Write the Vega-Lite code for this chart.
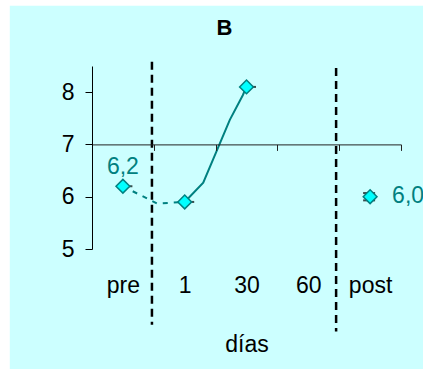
{
  "$schema": "https://vega.github.io/schema/vega-lite/v6.json",
  "width": 309,
  "height": 183,
  "autosize": {"type": "none"},
  "padding": {"left": 92, "top": 66, "right": 22, "bottom": 120},
  "background": "white",
  "config": {
    "view": {"stroke": null},
    "font": "Liberation Sans",
    "axis": {"labelFont": "Liberation Sans", "titleFont": "Liberation Sans", "grid": false}
  },
  "title": {
    "text": "B",
    "font": "Liberation Sans",
    "fontSize": 22,
    "fontWeight": "bold",
    "color": "black",
    "anchor": "middle",
    "frame": "group",
    "dx": -22,
    "offset": -34
  },
  "datasets": {
    "puntos": [
      {"dia": "pre", "pos": 0.5, "valor": 6.2, "etiqueta": "6,2"},
      {"dia": "1", "pos": 1.5, "valor": 5.9, "etiqueta": ""},
      {"dia": "30", "pos": 2.5, "valor": 8.1, "etiqueta": ""},
      {"dia": "post", "pos": 4.5, "valor": 6.0, "etiqueta": "6,0"}
    ],
    "tramoDiscontinuo": [
      {"pos": 0.5, "valor": 6.2},
      {"pos": 1.05, "valor": 5.87},
      {"pos": 1.5, "valor": 5.9}
    ],
    "tramoContinuo": [
      {"pos": 1.5, "valor": 5.9},
      {"pos": 1.8, "valor": 6.27},
      {"pos": 2.23, "valor": 7.47},
      {"pos": 2.44, "valor": 7.94},
      {"pos": 2.5, "valor": 8.1}
    ],
    "errores": [
      {"pos": 0.5, "limite": 6.2},
      {"pos": 1.5, "limite": 5.9},
      {"pos": 2.5, "limite": 8.1},
      {"pos": 4.5, "limite": 5.93},
      {"pos": 4.5, "limite": 6.07}
    ],
    "separadores": [
      {"pos": 0.97, "arriba": 8.58, "abajo": 3.55},
      {"pos": 3.95, "arriba": 8.46, "abajo": 3.42}
    ]
  },
  "resolve": {"axis": {"x": "independent", "y": "independent"}},
  "layer": [
    {
      "data": {"values": [{}]},
      "mark": {"type": "rect", "color": "#CCFFFF"},
      "encoding": {
        "x": {"datum": -1.33, "type": "quantitative", "scale": {"domain": [0, 5], "nice": false, "zero": false}, "axis": null},
        "x2": {"datum": 5.6},
        "y": {"datum": 9.65, "type": "quantitative", "scale": {"domain": [5, 8.5], "nice": false, "zero": false}, "axis": null},
        "y2": {"datum": 2.0}
      }
    },
    {
      "data": {"name": "separadores"},
      "mark": {"type": "rule", "color": "black", "strokeWidth": 2.5, "strokeDash": [8, 5]},
      "encoding": {
        "x": {
          "field": "pos", "type": "quantitative",
          "scale": {"domain": [0, 5], "nice": false, "zero": false},
          "axis": {
            "orient": "bottom", "offset": -104.6, "values": [0, 1, 2, 3, 4, 5],
            "labels": false, "tickSize": 6, "tickColor": "#222", "domainColor": "#222",
            "domainWidth": 1, "tickWidth": 1, "title": null, "zindex": 1
          }
        },
        "y": {
          "field": "arriba", "type": "quantitative",
          "scale": {"domain": [5, 8.5], "nice": false, "zero": false},
          "axis": {
            "orient": "left", "values": [5, 6, 7, 8], "tickSize": 7, "labelPadding": 11,
            "labelFontSize": 23, "labelColor": "black", "tickColor": "black",
            "domainColor": "black", "domainWidth": 1, "tickWidth": 1,
            "title": null, "zindex": 1
          }
        },
        "y2": {"field": "abajo"}
      }
    },
    {
      "data": {"name": "tramoDiscontinuo"},
      "mark": {"type": "line", "color": "#008080", "strokeWidth": 2, "strokeDash": [5, 6]},
      "encoding": {
        "x": {
          "field": "pos", "type": "quantitative",
          "scale": {"domain": [0, 5], "nice": false, "zero": false},
          "axis": {
            "orient": "bottom", "values": [0.5, 1.5, 2.5, 3.5, 4.5],
            "labelExpr": "['pre','1','30','60','post'][floor(datum.value)]",
            "ticks": false, "tickSize": 0, "domain": false,
            "labelPadding": 25, "labelFontSize": 23, "labelColor": "black",
            "labelFlush": false, "labelOverlap": false, "labelBound": false,
            "title": "días", "titleFontSize": 23, "titleFontWeight": "normal",
            "titleColor": "black", "titlePadding": 36, "zindex": 1
          }
        },
        "y": {"field": "valor", "type": "quantitative", "scale": {"domain": [5, 8.5], "nice": false, "zero": false}, "axis": null}
      }
    },
    {
      "data": {"name": "tramoContinuo"},
      "mark": {"type": "line", "color": "#008080", "strokeWidth": 2},
      "encoding": {
        "x": {"field": "pos", "type": "quantitative", "scale": {"domain": [0, 5], "nice": false, "zero": false}, "axis": null},
        "y": {"field": "valor", "type": "quantitative", "scale": {"domain": [5, 8.5], "nice": false, "zero": false}, "axis": null}
      }
    },
    {
      "data": {"name": "errores"},
      "transform": [{"filter": "datum.pos < 4"}],
      "mark": {"type": "tick", "orient": "horizontal", "color": "black", "size": 13, "thickness": 2, "xOffset": 3},
      "encoding": {
        "x": {"field": "pos", "type": "quantitative", "scale": {"domain": [0, 5], "nice": false, "zero": false}, "axis": null},
        "y": {"field": "limite", "type": "quantitative", "scale": {"domain": [5, 8.5], "nice": false, "zero": false}, "axis": null}
      }
    },
    {
      "data": {"name": "errores"},
      "transform": [{"filter": "datum.pos > 4"}],
      "mark": {"type": "tick", "orient": "horizontal", "color": "black", "size": 12, "thickness": 2, "xOffset": -1},
      "encoding": {
        "x": {"field": "pos", "type": "quantitative", "scale": {"domain": [0, 5], "nice": false, "zero": false}, "axis": null},
        "y": {"field": "limite", "type": "quantitative", "scale": {"domain": [5, 8.5], "nice": false, "zero": false}, "axis": null}
      }
    },
    {
      "data": {"name": "puntos"},
      "mark": {"type": "point", "shape": "diamond", "filled": true, "fill": "#00FFFF", "stroke": "#008080", "strokeWidth": 1.5, "size": 190, "opacity": 1},
      "encoding": {
        "x": {"field": "pos", "type": "quantitative", "scale": {"domain": [0, 5], "nice": false, "zero": false}, "axis": null},
        "y": {"field": "valor", "type": "quantitative", "scale": {"domain": [5, 8.5], "nice": false, "zero": false}, "axis": null}
      }
    },
    {
      "data": {"name": "puntos"},
      "transform": [{"filter": "datum.dia == 'pre'"}],
      "mark": {"type": "text", "color": "#008080", "fontSize": 23, "font": "Liberation Sans", "align": "center", "baseline": "alphabetic", "dy": -12},
      "encoding": {
        "x": {"field": "pos", "type": "quantitative", "scale": {"domain": [0, 5], "nice": false, "zero": false}, "axis": null},
        "y": {"field": "valor", "type": "quantitative", "scale": {"domain": [5, 8.5], "nice": false, "zero": false}, "axis": null},
        "text": {"field": "etiqueta"}
      }
    },
    {
      "data": {"name": "puntos"},
      "transform": [{"filter": "datum.dia == 'post'"}],
      "mark": {"type": "text", "color": "#008080", "fontSize": 23, "font": "Liberation Sans", "align": "left", "baseline": "middle", "dx": 22, "dy": -1},
      "encoding": {
        "x": {"field": "pos", "type": "quantitative", "scale": {"domain": [0, 5], "nice": false, "zero": false}, "axis": null},
        "y": {"field": "valor", "type": "quantitative", "scale": {"domain": [5, 8.5], "nice": false, "zero": false}, "axis": null},
        "text": {"field": "etiqueta"}
      }
    }
  ]
}
